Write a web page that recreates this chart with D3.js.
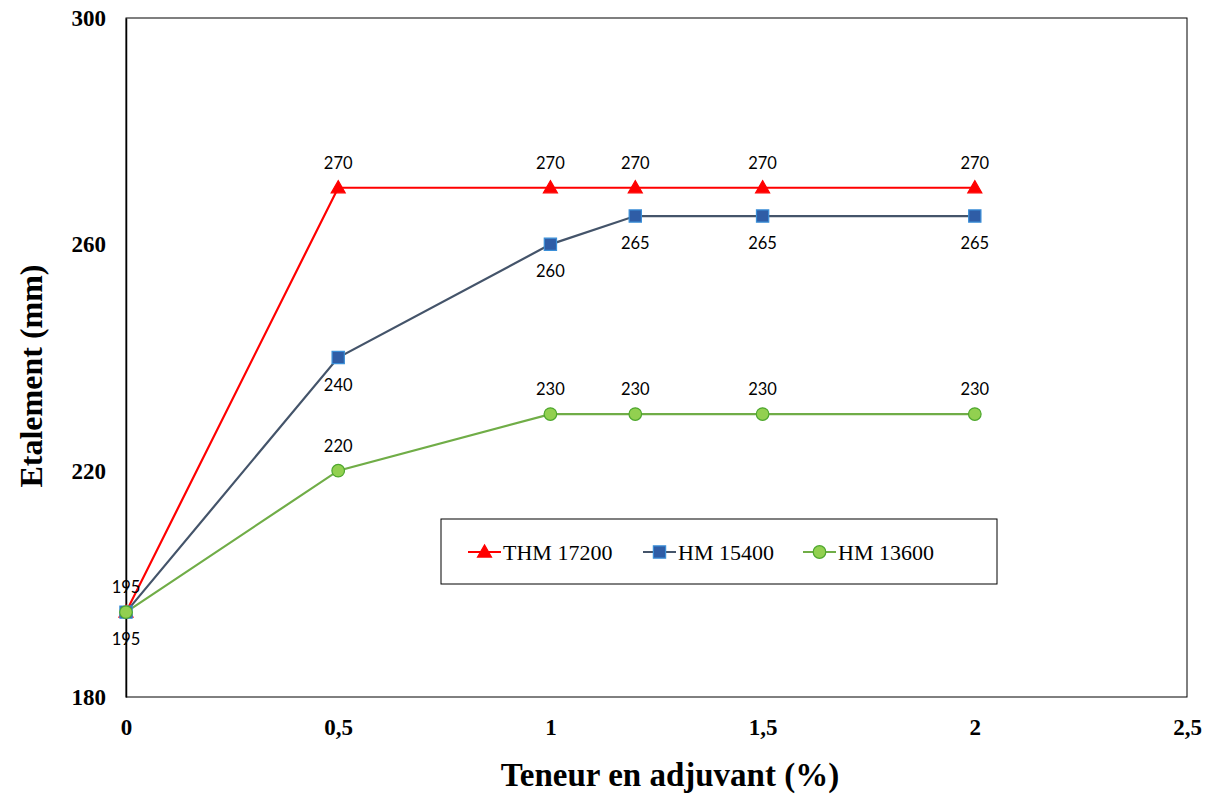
<!DOCTYPE html>
<html>
<head>
<meta charset="utf-8">
<script src="https://cdn.jsdelivr.net/npm/d3@7"></script>
<style>
  html, body { margin: 0; padding: 0; background: #fff; }
  svg { display: block; }
</style>
</head>
<body>
<svg id="chart" width="1212" height="794"></svg>
<script>
// Admixture content (%) and slump flow (mm) for three superplasticizers
const dosage = [0, 0.5, 1, 1.2, 1.5, 2];
const thm17200 = [195, 270, 270, 270, 270, 270];
const hm15400 = [195, 240, 260, 265, 265, 265];
const hm13600 = [195, 220, 230, 230, 230, 230];
const seriesNames = ["THM 17200", "HM 15400", "HM 13600"];
const xTicks = [0, 0.5, 1, 1.5, 2, 2.5];
const yTicks = [180, 220, 260, 300];

const svg = d3.select("#chart");
const plot = { left: 126, right: 1187, top: 18, bottom: 697 };

const x = d3.scaleLinear().domain([0, 2.5]).range([plot.left, plot.right]);
const y = d3.scaleLinear().domain([180, 300]).range([plot.bottom, plot.top]);

// plot frame
svg.append("rect")
  .attr("x", plot.left).attr("y", plot.top)
  .attr("width", plot.right - plot.left).attr("height", plot.bottom - plot.top)
  .attr("fill", "none").attr("stroke", "#000").attr("stroke-width", 1);

// axes (labels only, no tick marks)
const fmt = d => String(d).replace(".", ",");
const xAxis = svg.append("g")
  .attr("transform", `translate(0,${plot.bottom})`)
  .call(d3.axisBottom(x).tickValues(xTicks).tickFormat(fmt).tickSize(0).tickPadding(22));
const yAxis = svg.append("g")
  .attr("transform", `translate(${plot.left},0)`)
  .call(d3.axisLeft(y).tickValues(yTicks).tickFormat(fmt).tickSize(0).tickPadding(20));
[xAxis, yAxis].forEach(g => {
  g.select(".domain").attr("stroke", "#000").attr("stroke-width", 1.5);
  g.selectAll("text")
    .attr("font-family", "'Liberation Serif', 'Times New Roman', serif")
    .attr("font-weight", "bold")
    .attr("font-size", 23)
    .attr("fill", "#000");
});
xAxis.select(".domain").remove();

// axis titles
svg.append("text")
  .attr("x", 670).attr("y", 786)
  .attr("text-anchor", "middle")
  .attr("font-family", "'Liberation Serif', 'Times New Roman', serif")
  .attr("font-weight", "bold").attr("font-size", 33)
  .text("Teneur en adjuvant (%)");
svg.append("text")
  .attr("transform", "translate(42,376) rotate(-90)")
  .attr("text-anchor", "middle")
  .attr("font-family", "'Liberation Serif', 'Times New Roman', serif")
  .attr("font-weight", "bold").attr("font-size", 32)
  .text("Etalement (mm)");

const series = [
  { name: seriesNames[0], values: thm17200, line: "#ff0000", fill: "#ff0000", stroke: "#ff0000", shape: d3.symbolTriangle, size: 85, labelDy: -19 },
  { name: seriesNames[1], values: hm15400, line: "#44546a", fill: "#2f5da6", stroke: "#3b8fd8", shape: d3.symbolSquare, size: 150, labelDy: 33 },
  { name: seriesNames[2], values: hm13600, line: "#70ad47", fill: "#92d050", stroke: "#4ea72e", shape: d3.symbolCircle, size: 125, labelDy: -19 }
];

const line = d3.line().x(d => x(d[0])).y(d => y(d[1]));

series.forEach(s => {
  const pts = dosage.map((d, i) => [d, s.values[i]]);
  svg.append("path")
    .attr("d", line(pts))
    .attr("fill", "none").attr("stroke", s.line).attr("stroke-width", 2.2);
});

series.forEach(s => {
  const pts = dosage.map((d, i) => [d, s.values[i]]);
  svg.append("g").selectAll("path").data(pts).join("path")
    .attr("d", d3.symbol().type(s.shape).size(s.size))
    .attr("transform", d => `translate(${x(d[0])},${y(d[1]) + (s.shape === d3.symbolTriangle ? 1 : 0)})`)
    .attr("fill", s.fill).attr("stroke", s.stroke).attr("stroke-width", 1.2);
});

// data labels (the green starting point shares its label with the red one)
series.forEach((s, si) => {
  const pts = dosage.map((d, i) => [d, s.values[i]]).filter((d, i) => !(si === 2 && i === 0));
  svg.append("g").selectAll("text").data(pts).join("text")
    .attr("x", d => x(d[0]))
    .attr("y", d => y(d[1]) + s.labelDy)
    .attr("text-anchor", "middle")
    .attr("font-family", "Lato, 'Open Sans', sans-serif")
    .attr("font-size", 16.5)
    .attr("fill", "#000")
    .text(d => d[1]);
});

// legend
const lg = svg.append("g");
lg.append("rect")
  .attr("x", 441).attr("y", 519).attr("width", 556).attr("height", 65)
  .attr("fill", "#fff").attr("stroke", "#000").attr("stroke-width", 1);
const legendX = [468, 643, 803];
series.forEach((s, i) => {
  const lx = legendX[i], ly = 552;
  lg.append("line")
    .attr("x1", lx).attr("x2", lx + 33).attr("y1", ly).attr("y2", ly)
    .attr("stroke", s.line).attr("stroke-width", 2.2);
  lg.append("path")
    .attr("d", d3.symbol().type(s.shape).size(s.size)())
    .attr("transform", `translate(${lx + 16.5},${ly + (s.shape === d3.symbolTriangle ? 1 : 0)})`)
    .attr("fill", s.fill).attr("stroke", s.stroke).attr("stroke-width", 1.2);
  lg.append("text")
    .attr("x", lx + 35).attr("y", ly + 8)
    .attr("font-family", "'Liberation Serif', 'Times New Roman', serif")
    .attr("font-size", 22)
    .text(s.name);
});
</script>
</body>
</html>
